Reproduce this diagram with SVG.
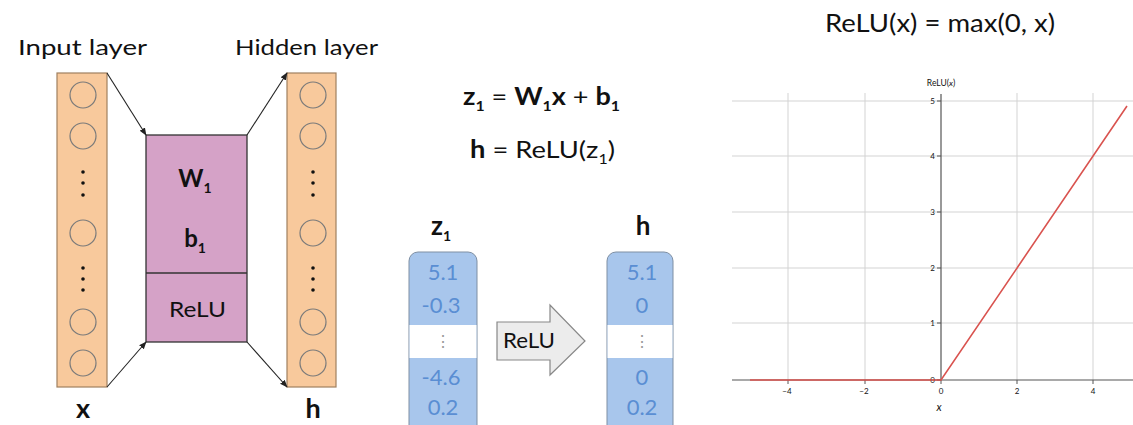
<svg xmlns="http://www.w3.org/2000/svg" width="1133" height="425" viewBox="0 0 1133 425">
<defs>
<style>
text{font-family:Lato,"Open Sans","Liberation Sans",sans-serif;fill:#111}
.lbl{font-size:22px}
.col{fill:#f8c99c;stroke:#a08060;stroke-width:1.2}
.neu{fill:none;stroke:#7a7a7a;stroke-width:1.2}
.dot{fill:#111}
.box{fill:#d5a2c7;stroke:#333;stroke-width:1.3}
.conn{stroke:#222;stroke-width:1.1;fill:none;marker-end:url(#ah)}
.eq{font-size:24px}
.b{font-weight:bold}
.sub{font-size:14px}
.vec{fill:#a8c6ec;stroke:#7e8fa3;stroke-width:1}
.num{font-size:22px;fill:#5a8ed3;text-anchor:middle}
.ell{font-size:16px;fill:#999;text-anchor:middle}
.grid{stroke:#d3d3d3;stroke-width:1}
.axis{stroke:#555;stroke-width:1.2}
.tick{font-size:8px;fill:#444}
</style>
<marker id="ah" viewBox="0 0 10 10" refX="9" refY="5" markerWidth="7" markerHeight="7" orient="auto-start-reverse">
<path d="M0,1 L10,5 L0,9 z" fill="#222"/>
</marker>
</defs>
<rect width="1133" height="425" fill="#fff"/>

<g id="input-layer">
<text class="lbl" x="18" y="55" textLength="129" lengthAdjust="spacingAndGlyphs">Input layer</text>
<rect class="col" x="57" y="73" width="50" height="314"/>
<circle class="neu" cx="83" cy="95" r="13"/>
<circle class="neu" cx="83" cy="136" r="13"/>
<circle class="dot" cx="83" cy="172" r="1.8"/><circle class="dot" cx="83" cy="183" r="1.8"/><circle class="dot" cx="83" cy="195" r="1.8"/>
<circle class="neu" cx="83" cy="233" r="13"/>
<circle class="dot" cx="83" cy="268" r="1.8"/><circle class="dot" cx="83" cy="279" r="1.8"/><circle class="dot" cx="83" cy="290" r="1.8"/>
<circle class="neu" cx="83" cy="322" r="13"/>
<circle class="neu" cx="83" cy="363" r="13"/>
<text class="b" x="83" y="418" font-size="27" text-anchor="middle">x</text>
</g>

<g id="layer-box">
<rect class="box" x="146" y="135" width="101" height="207"/>
<line x1="146" y1="273" x2="247" y2="273" stroke="#333" stroke-width="1.3"/>
<text class="b" x="195" y="187" text-anchor="middle" font-size="24">W<tspan class="sub" dy="6">1</tspan></text>
<text class="b" x="195" y="247" text-anchor="middle" font-size="24">b<tspan class="sub" dy="6">1</tspan></text>
<text x="169" y="317" font-size="21" textLength="57" lengthAdjust="spacingAndGlyphs">ReLU</text>
</g>

<g id="hidden-layer">
<text class="lbl" x="235" y="55" textLength="143" lengthAdjust="spacingAndGlyphs">Hidden layer</text>
<rect class="col" x="287" y="73" width="49" height="314"/>
<circle class="neu" cx="313" cy="95" r="13"/>
<circle class="neu" cx="313" cy="136" r="13"/>
<circle class="dot" cx="313" cy="172" r="1.8"/><circle class="dot" cx="313" cy="183" r="1.8"/><circle class="dot" cx="313" cy="195" r="1.8"/>
<circle class="neu" cx="313" cy="233" r="13"/>
<circle class="dot" cx="313" cy="268" r="1.8"/><circle class="dot" cx="313" cy="279" r="1.8"/><circle class="dot" cx="313" cy="290" r="1.8"/>
<circle class="neu" cx="313" cy="322" r="13"/>
<circle class="neu" cx="313" cy="363" r="13"/>
<text class="b" x="313" y="418" font-size="27" text-anchor="middle">h</text>
</g>

<g id="connectors">
<line class="conn" x1="107" y1="73" x2="146" y2="135"/>
<line class="conn" x1="107" y1="387" x2="146" y2="342"/>
<line class="conn" x1="247" y1="135" x2="287" y2="73"/>
<line class="conn" x1="247" y1="342" x2="287" y2="387"/>
</g>

<g id="equations">
<text class="eq" x="463" y="105" textLength="157" lengthAdjust="spacingAndGlyphs"><tspan class="b">z</tspan><tspan class="sub b" dy="6">1</tspan><tspan dy="-6"> = </tspan><tspan class="b">W</tspan><tspan class="sub b" dy="6">1</tspan><tspan class="b" dy="-6">x</tspan><tspan> + </tspan><tspan class="b">b</tspan><tspan class="sub b" dy="6">1</tspan></text>
<text class="eq" x="470" y="158" textLength="145" lengthAdjust="spacingAndGlyphs"><tspan class="b">h</tspan> = ReLU(z<tspan class="sub" dy="6">1</tspan><tspan dy="-6">)</tspan></text>
</g>

<g id="z1-vector">
<text class="b" x="441" y="235" font-size="26" text-anchor="middle">z<tspan class="sub" font-size="15" dy="6">1</tspan></text>
<rect class="vec" x="409" y="252" width="68" height="185" rx="9"/>
<rect x="409.5" y="325" width="67" height="33" fill="#fff"/>
<text class="num" x="443" y="280">5.1</text>
<text class="num" x="441" y="313">-0.3</text>
<text class="ell" x="443" y="347">⋮</text>
<text class="num" x="441" y="385">-4.6</text>
<text class="num" x="443" y="415">0.2</text>
</g>

<g id="relu-arrow">
<path d="M497,322 L550,322 L550,305 L585,341 L550,375 L550,360 L497,360 Z" fill="#ececec" stroke="#888" stroke-width="1.2"/>
<text x="503" y="348" font-size="21" textLength="52" lengthAdjust="spacingAndGlyphs">ReLU</text>
</g>

<g id="h-vector">
<text class="b" x="643" y="235" font-size="26" text-anchor="middle">h</text>
<rect class="vec" x="607" y="252" width="66" height="185" rx="9"/>
<rect x="607.5" y="325" width="65" height="33" fill="#fff"/>
<text class="num" x="642" y="280">5.1</text>
<text class="num" x="642" y="313">0</text>
<text class="ell" x="642" y="347">⋮</text>
<text class="num" x="642" y="385">0</text>
<text class="num" x="642" y="415">0.2</text>
</g>

<g id="relu-plot">
<text x="825" y="32" font-size="25" textLength="230" lengthAdjust="spacingAndGlyphs">ReLU(x) = max(0, x)</text>
<g class="grid">
<line x1="732" y1="101" x2="1133" y2="101"/>
<line x1="732" y1="156" x2="1133" y2="156"/>
<line x1="732" y1="212" x2="1133" y2="212"/>
<line x1="732" y1="268" x2="1133" y2="268"/>
<line x1="732" y1="323" x2="1133" y2="323"/>
<line x1="788" y1="93" x2="788" y2="380"/>
<line x1="865" y1="93" x2="865" y2="380"/>
<line x1="1017" y1="93" x2="1017" y2="380"/>
<line x1="1093" y1="93" x2="1093" y2="380"/>
</g>
<line class="axis" x1="732" y1="380" x2="1133" y2="380"/>
<line class="axis" x1="941" y1="94" x2="941" y2="380"/>
<g stroke="#555" stroke-width="1">
<line x1="937" y1="101" x2="941" y2="101"/><line x1="937" y1="156" x2="941" y2="156"/><line x1="937" y1="212" x2="941" y2="212"/><line x1="937" y1="268" x2="941" y2="268"/><line x1="937" y1="323" x2="941" y2="323"/><line x1="937" y1="380" x2="941" y2="380"/>
<line x1="788" y1="380" x2="788" y2="384"/><line x1="865" y1="380" x2="865" y2="384"/><line x1="941" y1="380" x2="941" y2="384"/><line x1="1017" y1="380" x2="1017" y2="384"/><line x1="1093" y1="380" x2="1093" y2="384"/>
</g>
<g class="tick" text-anchor="end">
<text x="935" y="104">5</text><text x="935" y="159">4</text><text x="935" y="215">3</text><text x="935" y="271">2</text><text x="935" y="326">1</text><text x="935" y="383">0</text>
</g>
<g class="tick" text-anchor="middle">
<text x="787" y="394">−4</text><text x="864" y="394">−2</text><text x="941" y="394">0</text><text x="1017" y="394">2</text><text x="1093" y="394">4</text>
</g>
<text x="939" y="411" font-size="11" font-style="italic" text-anchor="middle" fill="#333">x</text>
<text x="941" y="86" font-size="8.5" text-anchor="middle" fill="#444">ReLU(<tspan font-style="italic">x</tspan>)</text>
<polyline points="750,380 941,380 1127,106" fill="none" stroke="#d9534f" stroke-width="1.6"/>
</g>
</svg>
